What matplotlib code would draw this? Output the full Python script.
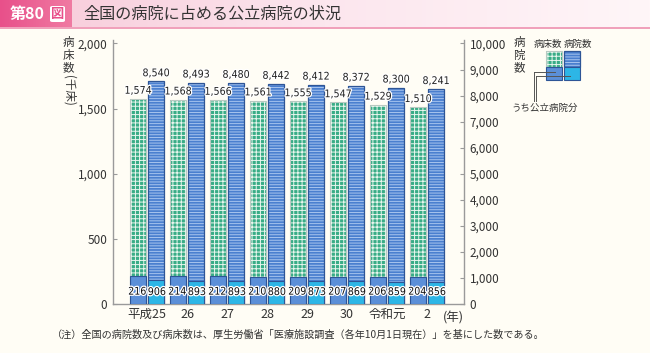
import matplotlib
matplotlib.use("Agg")
import matplotlib.pyplot as plt
import numpy as np
import os
from matplotlib import font_manager
from matplotlib.font_manager import FontProperties
from matplotlib.patches import Rectangle, FancyBboxPatch
from matplotlib.lines import Line2D
from matplotlib.colors import LinearSegmentedColormap
import matplotlib.patheffects as pe

# ---------------- data ----------------
years = ["平成25", "26", "27", "28", "29", "30", "令和元", "2"]
beds = [1574, 1568, 1566, 1561, 1555, 1547, 1529, 1510]          # 千床
beds_public = [216, 214, 212, 210, 209, 207, 206, 204]
hospitals = [8540, 8493, 8480, 8442, 8412, 8372, 8300, 8241]
hospitals_public = [906, 893, 893, 880, 873, 869, 859, 856]
left_ticks = [0, 500, 1000, 1500, 2000]
right_ticks = [0, 1000, 2000, 3000, 4000, 5000, 6000, 7000, 8000, 9000, 10000]

# ---------------- fonts ----------------
JP = ["Noto Sans CJK JP", "DejaVu Sans"]


def find_condensed():
    for f in font_manager.fontManager.ttflist:
        base = os.path.basename(f.fname).lower()
        if ("narrow" in base or ("condensed" in base and "semi" not in base
                                 and "extra" not in base and "ultra" not in base)) \
                and "italic" not in base and "oblique" not in base \
                and "mono" not in base and "bold" not in base:
            return f.fname
    return None


cond_file = find_condensed()
if cond_file:
    NUMFP = dict(fontproperties=FontProperties(fname=cond_file, size=7.6))
else:
    NUMFP = dict(family=["Liberation Sans", "DejaVu Sans"], fontsize=6.5,
                 fontweight="bold")

plt.rcParams["font.family"] = JP
plt.rcParams["hatch.linewidth"] = 0.7

W, H = 650, 353
bg = "#FFFDF5"
fig = plt.figure(figsize=(W / 100, H / 100), dpi=100, facecolor=bg)


def fx(x):
    return x / W


def fy(y):
    return 1 - y / H


# ---------------- title bar ----------------
grad = np.linspace(0, 1, 256).reshape(1, -1)
cm = LinearSegmentedColormap.from_list("p", ["#F7C9D8", "#FCE6EE", "#FFF6F8"])
bax = fig.add_axes([0, fy(27), 1, 27 / H])
bax.imshow(grad, aspect="auto", cmap=cm, extent=[0, 1, 0, 1])
bax.set_axis_off()
cm2 = LinearSegmentedColormap.from_list("p2", ["#E8508A", "#F07AA2"])
bax2 = fig.add_axes([0, fy(27), fx(72), 27 / H])
bax2.imshow(grad, aspect="auto", cmap=cm2, extent=[0, 1, 0, 1])
bax2.set_axis_off()
fig.add_artist(Line2D([0, 1], [fy(27.5), fy(27.5)], transform=fig.transFigure,
                      color="#EE8FB0", lw=1.2))
fig.text(fx(10), fy(14), "第80", color="white", fontsize=11.5, fontweight="bold",
         va="center", ha="left", family=JP)
fig.add_artist(FancyBboxPatch((fx(50), fy(22)), fx(15), 16 / H,
                              boxstyle="round,pad=0,rounding_size=0.004",
                              transform=fig.transFigure, facecolor="white",
                              edgecolor="none"))
fig.text(fx(57.5), fy(14), "図", color="#E8508A", fontsize=9.5, fontweight="bold",
         va="center", ha="center", family=JP)
fig.text(fx(83), fy(14), "全国の病院に占める公立病院の状況", color="#333333",
         fontsize=11.6, va="center", ha="left", family=JP)

# ---------------- axes ----------------
ax_left_px, ax_right_px, ax_bottom_px, ax_top_px = 113, 464, 304, 40.2
ax = fig.add_axes([fx(ax_left_px), fy(ax_bottom_px),
                   fx(ax_right_px - ax_left_px), (ax_bottom_px - ax_top_px) / H])
ax.set_facecolor("none")
ax2 = ax.twinx()

x = np.arange(len(years))
bw = 0.4
off = 0.225

green_face, green_hatch, green_edge = "#38AC86", "#E9F6EE", "#B9C9C2"
blue_face, blue_hatch, blue_edge = "#4A7FCF", "#A7C4EE", "#2E5596"
bedpub_face = "#5B8FD8"
hospub_face = "#2DB6E6"
dark_edge = "#2E5596"

# bed bars (left axis)
ax.bar(x - off, beds, bw, color=green_face, edgecolor=green_hatch, hatch="++++",
       linewidth=0, zorder=2)
ax.bar(x - off, beds, bw, fill=False, edgecolor=green_edge, linewidth=0.8, zorder=3)
ax.bar(x - off, beds_public, bw, color=bedpub_face, edgecolor=dark_edge,
       linewidth=0.8, zorder=4)

# hospital bars (right axis)
ax2.bar(x + off, hospitals, bw, color=blue_face, edgecolor=blue_hatch, hatch="------",
        linewidth=0, zorder=2)
ax2.bar(x + off, hospitals, bw, fill=False, edgecolor=blue_edge, linewidth=0.9, zorder=3)
ax2.bar(x + off, hospitals_public, bw, color=hospub_face, edgecolor=dark_edge,
        linewidth=0.8, zorder=4)

ax.set_xlim(-0.85, 7.925)
ax.set_ylim(0, 2025)
ax2.set_ylim(0, 10125)

# all value labels live on the top axes so bars never cover them
stroke = [pe.withStroke(linewidth=1.8, foreground="white")]
for i in range(len(years)):
    ax2.text(x[i] - off, beds[i] + 25, f"{beds[i]:,}", ha="center", va="bottom",
             color="#222222", path_effects=stroke, zorder=6,
             transform=ax.transData, **NUMFP)
    ax2.text(x[i] + off, hospitals[i] + 125, f"{hospitals[i]:,}", ha="center",
             va="bottom", color="#222222", path_effects=stroke, zorder=6, **NUMFP)
    ax2.text(x[i] - off - 0.02, 95, f"{beds_public[i]}", ha="center", va="center",
             color="#111111", path_effects=stroke, zorder=6,
             transform=ax.transData, **NUMFP)
    ax2.text(x[i] + off + 0.02, 460, f"{hospitals_public[i]}", ha="center",
             va="center", color="#111111", path_effects=stroke, zorder=6, **NUMFP)

spine_c = "#9A9A9A"
for a in (ax, ax2):
    a.spines["top"].set_visible(False)
    for s in a.spines.values():
        s.set_color(spine_c)
        s.set_linewidth(1.0)
ax.spines["right"].set_visible(False)
ax2.spines["left"].set_visible(False)
ax2.spines["bottom"].set_visible(False)

ax.set_yticks(left_ticks)
ax.set_yticklabels([f"{v:,}" for v in left_ticks])
ax2.set_yticks(right_ticks)
ax2.set_yticklabels([f"{v:,}" for v in right_ticks])
ax.tick_params(axis="y", direction="in", length=3, color=spine_c, pad=4,
               labelsize=8.5, labelcolor="#333333")
ax2.tick_params(axis="y", direction="in", length=3, color=spine_c, pad=4,
                labelsize=8.5, labelcolor="#333333")
ax.set_xticks(x)
ax.set_xticklabels(years)
ax.tick_params(axis="x", length=0, pad=3, labelsize=9, labelcolor="#333333")
ax.text(7.65, -60, "(年)", ha="center", va="top", fontsize=9, color="#333333",
        transform=ax.transData, clip_on=False)

# axis titles (vertical)
fig.text(fx(68), fy(36), "病\n床\n数", ha="center", va="top", fontsize=8.3,
         linespacing=0.95, color="#333333")
fig.text(fx(68.5), fy(90), "(千床)", ha="center", va="center", fontsize=8.3,
         rotation=270, color="#333333")
fig.text(fx(519), fy(36), "病\n院\n数", ha="center", va="top", fontsize=8.3,
         linespacing=0.95, color="#333333")

# ---------------- legend ----------------
def frect(x0, y0, x1, y1, **kw):
    r = Rectangle((fx(x0), fy(y1)), fx(x1 - x0), (y1 - y0) / H,
                  transform=fig.transFigure, **kw)
    fig.add_artist(r)


frect(546, 51, 562, 67, facecolor=green_face, edgecolor=green_hatch, hatch="++++",
      linewidth=0)
frect(546, 51, 562, 67, fill=False, edgecolor=green_edge, linewidth=0.8)
frect(546, 67, 562, 80, facecolor=bedpub_face, edgecolor=dark_edge, linewidth=0.8)
frect(564, 51, 580, 67, facecolor=blue_face, edgecolor=blue_hatch, hatch="------",
      linewidth=0)
frect(564, 51, 580, 67, fill=False, edgecolor=blue_edge, linewidth=0.9)
frect(564, 67, 580, 80, facecolor=hospub_face, edgecolor=dark_edge, linewidth=0.8)

fig.text(fx(547.5), fy(44), "病床数", ha="center", va="center", fontsize=6.8,
         color="#333333")
fig.text(fx(578), fy(44), "病院数", ha="center", va="center", fontsize=6.8,
         color="#333333")
lc = "#555555"
fig.add_artist(Line2D([fx(534), fx(555)], [fy(71.5), fy(71.5)],
                      transform=fig.transFigure, color=lc, lw=0.7))
fig.add_artist(Line2D([fx(536), fx(570)], [fy(75.5), fy(75.5)],
                      transform=fig.transFigure, color=lc, lw=0.7))
fig.add_artist(Line2D([fx(534), fx(534)], [fy(71.5), fy(101)],
                      transform=fig.transFigure, color=lc, lw=0.7))
fig.add_artist(Line2D([fx(536), fx(536)], [fy(75.5), fy(101)],
                      transform=fig.transFigure, color=lc, lw=0.7))
fig.text(fx(545), fy(108), "うち公立病院分", ha="center", va="center", fontsize=6.8,
         color="#333333")

# ---------------- footnote ----------------
fig.text(fx(52), fy(335), "（注）全国の病院数及び病床数は、厚生労働省「医療施設調査（各年10月1日現在）」を基にした数である。",
         ha="left", va="center", fontsize=7.3, color="#333333")

fig.savefig("out.png", dpi=100, facecolor=bg)
